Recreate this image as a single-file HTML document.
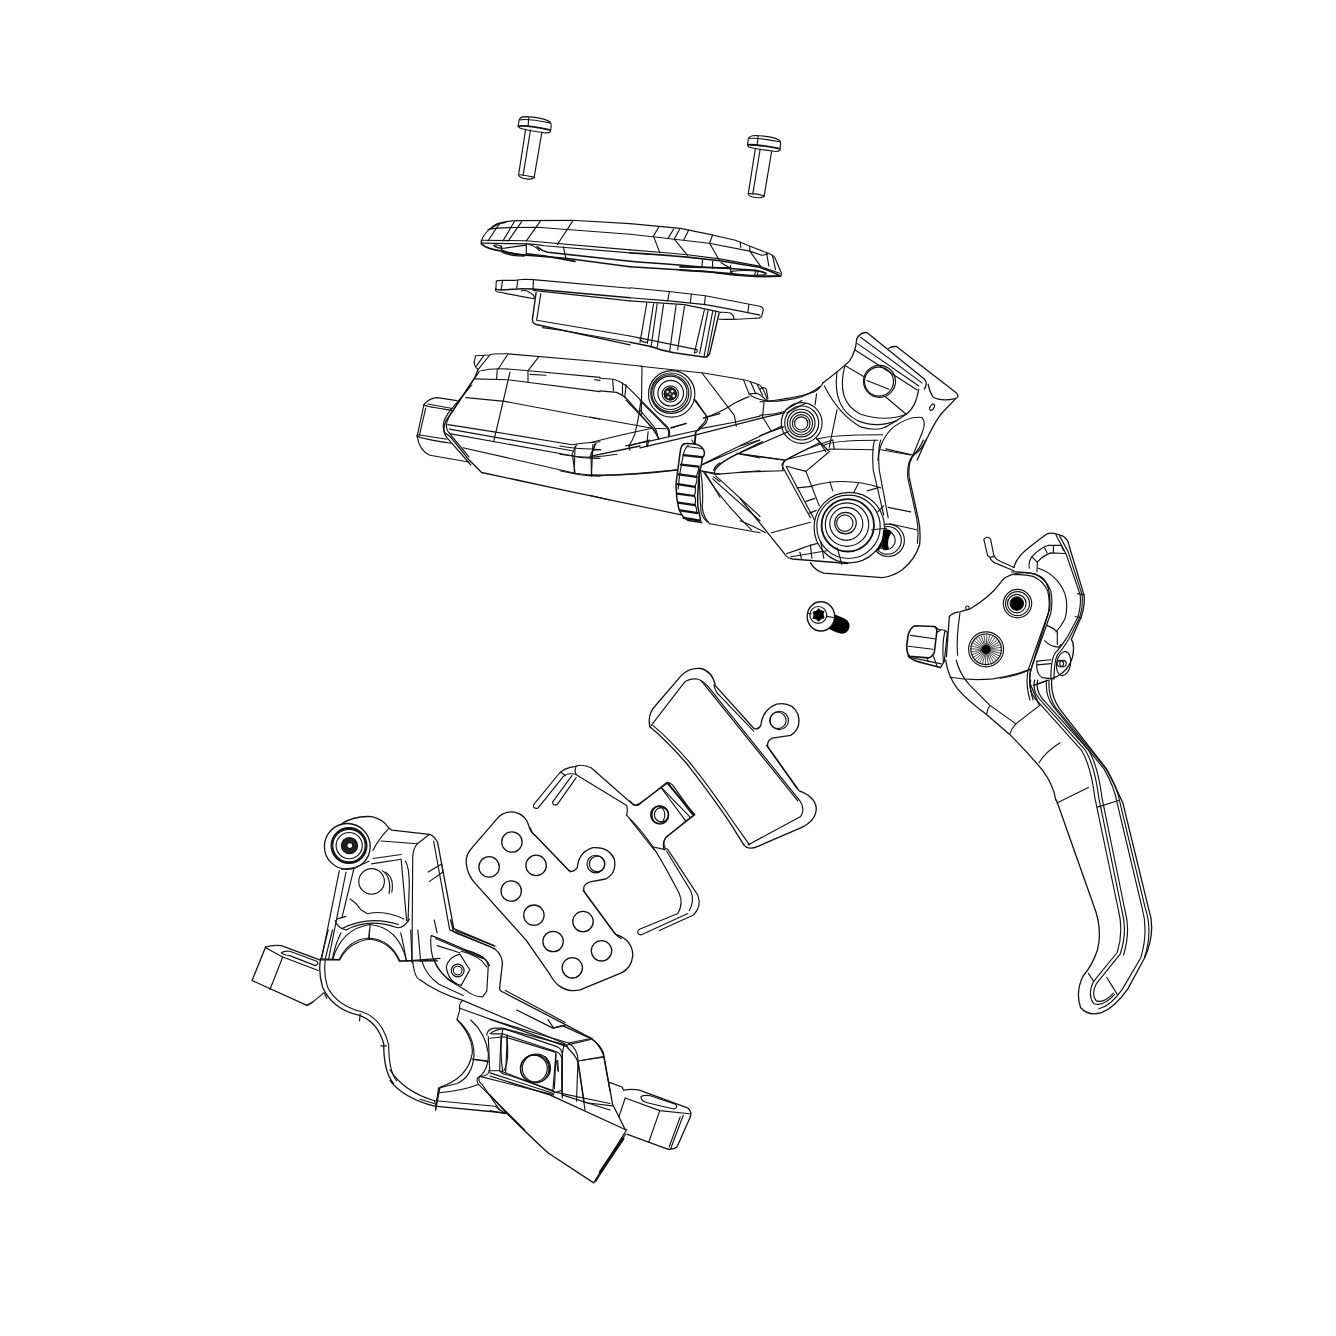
<!DOCTYPE html>
<html><head><meta charset="utf-8"><style>
html,body{margin:0;padding:0;background:#fff;width:1336px;height:1336px;overflow:hidden}
svg{display:block}
</style></head><body>
<svg width="1336" height="1336" viewBox="0 0 1336 1336">
<g fill="none" stroke="#111" stroke-width="1.15" stroke-linejoin="round" stroke-linecap="round">
<path d="M 519.2 119.6 Q 520.4 116.6 525.1 116.6 Q 541.9 117.2 549.7 121.4 Q 551.5 123.2 551.2 125.6 L 550.6 131.3 Q 549.1 133.4 544.3 132.8 Q 529.9 131.0 519.8 128.0 Q 518.0 126.8 518.3 125.0 Z"/>
<path d="M 519.8 119.9 Q 526.9 118.4 550.3 122.9"/>
<path d="M 528.7 117.8 L 528.1 126.2"/>
<path d="M 518.3 126.2 Q 526.9 125.0 549.7 129.8" stroke-width="1.8"/>
<path d="M 525.7 129.2 L 518.6 174.7" stroke-width="1.15"/>
<path d="M 530.5 129.8 L 523.1 175.3" stroke-width="1.15"/>
<path d="M 541.9 132.2 L 534.1 177.7" stroke-width="1.15"/>
<path d="M 518.3 174.7 Q 519.8 178.3 526.9 178.9 Q 532.3 179.8 534.4 177.1" stroke-width="1.15"/>
<path d="M 519.8 174.7 Q 526.9 175.3 533.5 177.1" stroke-width="1.15"/>
<path d="M 748.3 138.8 Q 749.8 135.5 755.1 135.5 Q 771.9 136.1 779.1 140.0 Q 780.9 141.8 780.6 144.2 L 780.0 150.1 Q 778.5 151.9 773.7 151.3 Q 759.9 149.6 749.2 147.2 Q 747.4 146.0 747.7 143.6 Z" stroke-width="1.15"/>
<path d="M 748.6 138.5 Q 756.9 137.3 779.7 141.8" stroke-width="1.15"/>
<path d="M 758.1 136.4 L 757.2 144.8" stroke-width="1.15"/>
<path d="M 747.7 144.8 Q 756.9 144.2 779.7 148.7" stroke-width="1.8"/>
<path d="M 755.4 148.4 L 748.3 193.6" stroke-width="1.15"/>
<path d="M 760.2 149.0 L 752.8 193.9" stroke-width="1.15"/>
<path d="M 771.6 151.6 L 764.1 196.3" stroke-width="1.15"/>
<path d="M 748.0 193.9 Q 749.2 196.9 755.7 197.5 Q 762.3 198.4 764.4 196.0" stroke-width="1.15"/>
<path d="M 748.6 193.6 Q 756.9 193.3 763.8 195.7" stroke-width="1.15"/>
<path d="M 481.4 240.9 Q 483.2 233.7 494.0 225.4 Q 501.1 221.2 517.9 220.6 L 571.8 220.3 L 630.0 223.6"/>
<path d="M 488.0 229.6 Q 496.3 227.2 537.1 227.2 L 630.0 234.3"/>
<path d="M 491.0 229.0 Q 495.1 224.2 505.9 222.4"/>
<path d="M 482.0 240.3 L 526.3 240.7 L 630.0 249.9"/>
<path d="M 482.0 243.1 L 526.3 243.9 Q 537.1 244.5 544.3 245.7 L 630.0 252.9"/>
<path d="M 537.1 246.9 Q 541.9 251.1 547.8 252.3 L 630.0 261.3" stroke-width="1.6"/>
<path d="M 481.4 240.9 L 481.4 243.9 Q 486.8 249.3 502.3 251.1 Q 511.9 254.1 526.3 255.3 L 565.8 258.3 L 630.0 266.7" stroke-width="1.6"/>
<path d="M 494.0 245.7 Q 497.5 248.7 504.7 248.1 L 526.3 245.1" stroke-width="1.15"/>
<path d="M 502.3 251.1 Q 509.5 254.7 526.3 255.3" stroke-width="1.15"/>
<path d="M 499.9 223.0 L 488.0 240.9" stroke-width="1.15"/>
<path d="M 514.3 221.8 L 502.9 240.9" stroke-width="1.15"/>
<path d="M 521.5 221.8 L 508.3 240.9" stroke-width="1.15"/>
<path d="M 540.7 220.6 L 526.3 240.9" stroke-width="1.15"/>
<path d="M 573.0 220.6 L 557.4 244.5" stroke-width="1.15"/>
<path d="M 526.3 243.3 L 526.3 255.3" stroke-width="1.15"/>
<path d="M 563.4 246.9 L 565.8 258.3" stroke-width="1.15"/>
<path d="M 501.1 245.7 L 501.7 251.1" stroke-width="1.15"/>
<path d="M 528.7 244.5 Q 534.7 245.7 539.5 250.5" stroke-width="1.15"/>
<path d="M 630.0 223.6 L 680.3 228.4 Q 707.8 233.7 735.4 240.3 Q 749.8 246.3 764.1 251.7 Q 772.5 254.1 774.9 257.7 L 781.5 273.3 Q 781.5 276.3 778.5 276.3" stroke-width="1.15"/>
<path d="M 630.0 234.3 L 652.8 236.7 L 709.0 243.3 L 749.8 251.1 L 761.7 255.3 L 767.7 254.1" stroke-width="1.15"/>
<path d="M 630.0 249.9 L 659.9 252.3 L 687.5 254.7 L 719.8 258.9 L 759.3 266.1 L 779.7 273.3" stroke-width="1.15"/>
<path d="M 630.0 252.9 Q 665.9 255.3 687.5 257.1 L 719.8 260.7 L 759.3 267.3 Q 773.7 272.1 780.3 276.3" stroke-width="1.6"/>
<path d="M 630.0 261.3 Q 677.9 264.9 705.4 267.3 L 729.4 268.5 L 755.7 270.3 Q 762.9 272.1 765.9 273.3" stroke-width="1.6"/>
<path d="M 630.0 266.7 L 706.6 271.5 L 729.4 274.5 Q 749.8 276.9 778.5 276.3" stroke-width="1.6"/>
<path d="M 658.7 227.2 L 653.4 236.1 L 659.9 252.9" stroke-width="1.15"/>
<path d="M 673.7 229.0 L 668.3 237.9" stroke-width="1.15"/>
<path d="M 679.7 229.0 L 674.3 239.1 L 687.5 255.3" stroke-width="1.15"/>
<path d="M 688.7 230.1 L 683.9 239.7" stroke-width="1.15"/>
<path d="M 712.6 234.9 L 709.6 243.3 L 719.2 260.1" stroke-width="1.15"/>
<path d="M 740.2 242.1 L 740.8 247.5" stroke-width="1.15"/>
<path d="M 749.8 246.3 L 749.8 251.1 L 760.5 266.1" stroke-width="1.15"/>
<path d="M 766.5 252.9 L 768.9 266.1" stroke-width="1.15"/>
<path d="M 772.5 255.3 L 775.5 269.7" stroke-width="1.15"/>
<path d="M 702.5 260.1 L 701.9 267.3" stroke-width="1.15"/>
<path d="M 712.6 261.3 L 712.6 268.5" stroke-width="1.15"/>
<path d="M 730.6 265.5 L 730.6 274.5" stroke-width="1.15"/>
<path d="M 755.7 270.3 L 754.6 276.3" stroke-width="1.15"/>
<path d="M 721.0 262.5 Q 725.8 266.1 729.4 267.3" stroke-width="1.15"/>
<path d="M 731.2 271.4 Q 742.9 269.6 760.8 271.4 Q 768.0 273.2 765.3 274.6 Q 751.9 275.9 733.0 274.6 Z" stroke-width="1.15"/>
<path d="M 680.0 270.1 Q 706.9 271.4 730.3 273.7 L 754.6 276.4 L 780.6 276.1" stroke-width="1.7"/>
<path d="M 680.0 266.9 L 729.4 268.0" stroke-width="1.7"/>
<path d="M 758.1 271.0 L 757.2 276.8" stroke-width="1.15"/>
<path d="M 501.6 246.4 L 501.9 251.7 Q 506.4 255.4 523.7 256.2 L 526.6 255.0" stroke-width="1.15"/>
<path d="M 503.4 250.9 Q 512.4 254.3 523.7 254.7" stroke-width="1.15"/>
<path d="M 493.7 245.3 Q 497.5 244.2 501.2 246.4" stroke-width="1.15"/>
<path d="M 526.6 253.9 L 543.9 255.8 L 575.0 261.4" stroke-width="1.6"/>
<path d="M 495.8 289.9 L 496.3 281.0 Q 497.3 280.3 502.6 280.3 L 516.2 280.3 Q 518.3 279.4 524.6 279.2 L 533.0 279.6 L 630.0 288.3"/>
<path d="M 495.8 288.9 Q 496.3 289.9 501.5 289.9 L 518.3 288.9 Q 521.4 288.3 533.0 289.1 L 630.0 297.8" stroke-width="1.5"/>
<path d="M 495.2 289.9 Q 496.3 292.5 501.5 292.5 Q 513.1 295.1 534.0 298.8" stroke-width="1.15"/>
<path d="M 533.0 290.4 L 630.0 300.9" stroke-width="1.15"/>
<path d="M 502.6 280.5 L 501.0 290.4" stroke-width="1.15"/>
<path d="M 517.8 280.0 L 516.7 288.9" stroke-width="1.15"/>
<path d="M 533.5 279.6 L 533.0 289.1" stroke-width="1.15"/>
<path d="M 521.4 291.0 Q 523.5 288.9 529.8 292.5 Q 535.1 295.1 534.0 298.3" stroke-width="1.15"/>
<path d="M 536.1 292.5 L 532.4 319.3 Q 532.4 323.4 536.1 324.5 L 630.0 344.9" stroke-width="1.4"/>
<path d="M 540.8 293.6 L 536.6 320.3 L 630.0 336.0" stroke-width="1.15"/>
<path d="M 542.4 327.6 L 561.3 330.3 L 630.0 342.3" stroke-width="1.15"/>
<path d="M 630.0 287.8 L 668.8 291.5 L 705.4 295.7 Q 734.8 301.4 759.9 306.2 Q 764.1 307.7 763.1 310.9 L 761.5 316.6 Q 759.9 318.7 755.7 318.2" stroke-width="1.15"/>
<path d="M 630.0 297.8 L 668.8 300.9 L 705.4 304.6 Q 729.6 308.8 759.9 315.1" stroke-width="1.15"/>
<path d="M 719.1 319.3 Q 729.6 319.8 755.7 318.2" stroke-width="1.15"/>
<path d="M 630.0 300.9 L 684.5 304.6 L 719.1 311.9" stroke-width="1.15"/>
<path d="M 669.3 292.0 L 667.7 300.9" stroke-width="1.15"/>
<path d="M 691.3 294.1 L 690.3 302.5" stroke-width="1.15"/>
<path d="M 705.4 296.2 L 704.4 304.6" stroke-width="1.15"/>
<path d="M 748.9 304.6 L 747.9 311.9" stroke-width="1.15"/>
<path d="M 720.1 312.4 Q 724.3 311.9 730.6 313.0 Q 734.8 316.1 733.7 319.3" stroke-width="1.15"/>
<path d="M 719.1 313.0 L 709.6 353.8 Q 707.5 357.5 703.4 357.0 L 674.0 352.8 Q 661.4 350.7 651.0 346.5 L 630.0 342.3" stroke-width="1.4"/>
<path d="M 630.0 336.0 L 640.5 338.1 L 697.1 349.6 Q 698.1 352.8 694.4 352.8" stroke-width="1.15"/>
<path d="M 646.8 303.0 L 640.0 342.3" stroke-width="1.15"/>
<path d="M 653.6 303.5 L 647.3 343.4" stroke-width="1.15"/>
<path d="M 657.2 303.5 L 651.0 347.5" stroke-width="1.15"/>
<path d="M 663.5 304.6 L 657.2 347.5" stroke-width="1.15"/>
<path d="M 676.1 305.1 L 669.8 350.7" stroke-width="1.15"/>
<path d="M 684.5 306.2 L 677.7 349.6" stroke-width="1.15"/>
<path d="M 704.4 309.8 L 694.4 352.8" stroke-width="1.15"/>
<path d="M 708.1 310.3 L 699.7 353.3" stroke-width="1.15"/>
<path d="M 712.8 310.9 L 703.9 357.0" stroke-width="1.15"/>
<path d="M 715.9 311.4 L 707.0 357.0" stroke-width="1.15"/>
<path d="M 640.0 338.1 Q 640.5 342.3 646.8 342.3" stroke-width="1.15"/>
<path d="M 474.1 362.5 L 475.6 355.7 L 489.8 355.0 Q 491.3 353.5 507.8 353.8 L 600.0 361.7"/>
<path d="M 474.1 362.5 Q 474.9 367.7 477.8 369.2"/>
<path d="M 489.8 355.0 L 477.8 369.9"/>
<path d="M 483.8 355.7 L 476.3 366.2"/>
<path d="M 480.8 370.7 Q 492.8 367.7 510.8 369.2 L 528.7 370.7 L 600.0 377.4"/>
<path d="M 530.2 374.4 L 546.0 375.2"/>
<path d="M 594.6 379.7 L 600.0 380.4"/>
<path d="M 474.9 378.9 L 507.8 379.7 L 600.0 391.6"/>
<path d="M 477.8 369.9 L 474.9 377.4 L 447.9 417.8 Q 441.9 426.8 444.9 432.8 L 450.9 437.3 L 468.9 459.8 L 481.6 472.5 L 516.8 480.0" stroke-width="1.3"/>
<path d="M 479.3 371.4 L 449.4 416.3 Q 444.2 425.3 447.9 431.3 L 468.9 456.8" stroke-width="1.15"/>
<path d="M 424.0 404.4 L 417.2 435.8" stroke-width="1.15"/>
<path d="M 424.0 404.4 Q 429.9 397.6 437.4 397.6 L 456.9 400.6" stroke-width="1.15"/>
<path d="M 424.0 405.1 Q 426.2 406.6 451.6 410.4" stroke-width="1.15"/>
<path d="M 416.5 435.8 Q 421.0 438.8 450.9 443.3" stroke-width="1.15"/>
<path d="M 417.2 436.6 Q 419.5 450.8 429.9 455.3 L 468.9 462.0" stroke-width="1.15"/>
<path d="M 465.9 397.6 L 504.8 401.4 L 600.0 419.3" stroke-width="1.15"/>
<path d="M 447.9 424.6 L 495.8 432.1 L 572.2 444.8 Q 579.6 443.3 600.0 441.8" stroke-width="1.15"/>
<path d="M 449.4 429.1 L 572.2 450.8" stroke-width="1.15"/>
<path d="M 449.4 433.6 L 573.7 456.0 Q 579.6 458.3 600.0 458.3" stroke-width="1.15"/>
<path d="M 462.9 447.8 L 575.1 473.2 L 600.0 476.2" stroke-width="1.15"/>
<path d="M 510.0 372.2 L 493.6 441.8" stroke-width="1.15"/>
<path d="M 497.3 369.2 L 496.6 378.9" stroke-width="1.15"/>
<path d="M 528.0 370.7 L 528.0 381.9" stroke-width="1.15"/>
<path d="M 507.8 354.2 L 498.1 369.2" stroke-width="1.15"/>
<path d="M 538.5 357.2 L 528.7 369.9" stroke-width="1.15"/>
<path d="M 576.6 444.8 L 572.2 453.8 L 575.1 473.2" stroke-width="1.15"/>
<path d="M 596.1 443.3 L 590.9 453.8 L 591.6 476.2" stroke-width="1.15"/>
<path d="M 590.0 417.0 L 652.3 428.2 L 665.9 428.7" stroke-width="1.15"/>
<path d="M 590.0 442.8 Q 619.2 435.0 652.3 428.2" stroke-width="1.15"/>
<path d="M 626.0 400.0 L 652.3 427.7 L 659.1 438.9" stroke-width="1.15"/>
<path d="M 640.6 402.9 Q 638.7 419.5 634.8 434.1 Q 631.8 441.8 628.9 445.7 L 629.9 450.1" stroke-width="1.15"/>
<path d="M 626.0 445.7 L 630.9 445.2" stroke-width="1.15"/>
<path d="M 670.8 428.2 L 686.3 423.4" stroke-width="1.15"/>
<path d="M 590.0 456.4 L 640.0 446.0" stroke-width="1.3"/>
<path d="M 626.0 445.7 L 648.4 441.4 L 699.0 430.0" stroke-width="1.15"/>
<path d="M 695.6 400.0 L 706.8 416.5 Q 708.7 420.4 704.8 424.3 L 698.0 430.2" stroke-width="1.15"/>
<path d="M 703.8 418.0 L 720.0 413.6" stroke-width="1.15"/>
<path d="M 696.1 431.1 L 695.1 443.8" stroke-width="1.15"/>
<path d="M 590.0 474.9 Q 628.9 475.9 676.6 470.1" stroke-width="1.15"/>
<path d="M 590.0 495.4 L 609.5 500.0" stroke-width="1.15"/>
<path d="M 701.9 464.7 L 720.0 456.4" stroke-width="1.15"/>
<path d="M 701.9 471.0 L 720.0 474.0" stroke-width="1.15"/>
<path d="M 704.8 472.0 L 720.0 497.3" stroke-width="1.15"/>
<path d="M 713.6 476.9 L 720.0 481.7" stroke-width="1.15"/>
<path d="M 713.6 470.1 Q 715.5 465.2 720.0 462.8" stroke-width="1.15"/>
<path d="M 594.9 443.8 L 591.9 454.5" stroke-width="1.15"/>
<path d="M 592.9 450.1 L 600.7 449.6" stroke-width="1.15"/>
<path d="M 648.4 441.8 L 647.4 446.7" stroke-width="1.15"/>
<path d="M 560.0 489.4 L 681.3 514.9"/>
<path d="M 709.7 523.8 L 760.0 532.8"/>
<path d="M 560.0 470.7 Q 582.5 475.9 595.9 475.9 Q 634.9 474.4 676.8 469.9"/>
<path d="M 560.0 454.2 Q 575.0 457.2 589.9 457.2 Q 604.9 456.2 616.9 454.2"/>
<path d="M 560.0 446.0 Q 575.0 449.0 592.9 449.0 L 600.4 449.7"/>
<path d="M 575.0 446.0 L 574.2 472.9"/>
<path d="M 592.9 444.5 L 591.4 475.9"/>
<path d="M 628.9 446.0 L 649.8 440.0"/>
<path d="M 691.7 440.0 L 694.7 444.5"/>
<path d="M 700.7 471.4 Q 703.7 489.4 702.2 507.4 Q 703.7 517.8 709.7 523.8"/>
<path d="M 702.2 464.7 Q 724.7 455.0 760.0 440.0"/>
<path d="M 714.2 472.9 Q 715.7 464.0 738.1 453.5 L 760.0 443.0"/>
<path d="M 738.1 453.5 L 760.0 458.0"/>
<path d="M 700.7 470.7 L 715.7 474.4 L 760.0 470.7"/>
<path d="M 703.7 472.2 Q 724.7 504.4 751.6 529.8"/>
<path d="M 712.7 478.9 L 760.0 520.8"/>
<path d="M 715.7 475.9 L 760.0 516.3"/>
<path d="M 822.9 382.9 Q 841.7 368.7 849.6 360.9 Q 855.9 351.4 856.7 338.9 Q 860.6 331.8 866.9 332.6 L 924.3 378.9 Q 928.2 383.7 924.3 389.2" stroke-width="1.3"/>
<path d="M 888.9 348.3 Q 892.0 345.9 896.8 346.7 L 956.5 393.1 Q 960.4 397.0 954.9 398.6 Q 940.8 401.7 932.9 397.0 Q 929.0 390.7 928.2 384.4" stroke-width="1.3"/>
<path d="M 955.7 398.6 L 940.8 414.3 Q 931.3 426.9 917.2 460.1" stroke-width="1.3"/>
<path d="M 860.6 337.3 L 921.9 382.9" stroke-width="1.15"/>
<path d="M 857.5 343.6 L 918.8 386.0" stroke-width="1.15"/>
<path d="M 855.1 349.9 L 917.2 389.9" stroke-width="1.15"/>
<path d="M 918.8 389.2 Q 915.6 408.0 906.2 414.3 L 896.8 420.6 L 885.7 426.9" stroke-width="1.15"/>
<ellipse cx="932.1" cy="407.2" rx="1.9" ry="3.5" transform="rotate(30.0 932.1 407.2)" stroke-width="1.15"/>
<circle cx="879.5" cy="381.3" r="16.0" stroke-width="1.15"/>
<circle cx="879.0" cy="381.6" r="14.5" stroke-width="1.15"/>
<path d="M 866.9 380.5 L 888.9 389.2" stroke-width="1.15"/>
<path d="M 844.9 365.6 L 863.7 376.6" stroke-width="1.15"/>
<path d="M 885.7 397.0 L 906.2 414.3" stroke-width="1.15"/>
<path d="M 844.9 365.6 Q 835.4 401.7 860.6 414.3 Q 885.7 422.2 906.2 414.3" stroke-width="1.15"/>
<path d="M 837.0 371.9 Q 832.3 408.0 857.5 420.6 Q 876.3 428.5 896.8 420.6" stroke-width="1.15"/>
<path d="M 824.4 386.0 Q 838.6 414.3 860.6 426.9 Q 876.3 431.6 885.7 426.9" stroke-width="1.15"/>
<circle cx="801.7" cy="423.0" r="20.4" stroke-width="1.15"/>
<circle cx="801.7" cy="423.0" r="17.0" stroke-width="1.15"/>
<circle cx="801.2" cy="423.0" r="13.8" stroke-width="1.15"/>
<circle cx="801.2" cy="423.4" r="11.3" stroke-width="1.15"/>
<circle cx="801.2" cy="423.4" r="8.8" stroke-width="1.15"/>
<circle cx="801.2" cy="423.4" r="6.6" stroke-width="1.15"/>
<path d="M 760.0 401.7 Q 791.4 399.4 813.4 392.3 Q 819.7 389.2 822.9 382.9" stroke-width="1.15"/>
<path d="M 760.0 415.1 Q 775.7 414.3 785.1 411.2" stroke-width="1.15"/>
<path d="M 760.0 435.5 L 783.6 426.9" stroke-width="1.15"/>
<path d="M 815.0 404.9 L 816.6 393.9" stroke-width="1.15"/>
<path d="M 837.0 409.6 L 829.2 447.3" stroke-width="1.15"/>
<path d="M 816.6 437.9 L 826.0 452.0" stroke-width="1.15"/>
<path d="M 816.6 439.5 Q 826.0 434.7 882.6 434.7" stroke-width="1.15"/>
<path d="M 822.9 445.7 Q 830.7 440.2 877.9 440.2" stroke-width="1.15"/>
<path d="M 877.9 460.1 Q 879.5 439.5 893.6 426.9 Q 909.3 415.9 921.9 417.5 Q 926.6 422.2 921.9 433.2 L 910.9 460.1" stroke-width="1.15"/>
<path d="M 885.7 448.9 L 914.0 455.2" stroke-width="1.15"/>
<path d="M 760.0 389.2 Q 763.1 386.0 766.3 389.2 L 767.9 398.6" stroke-width="1.15"/>
<path d="M 925.6 440.0 Q 922.6 449.0 913.7 455.0 Q 907.7 461.0 909.2 477.4 L 918.1 517.8 Q 921.1 529.8 919.6 544.8 Q 915.1 559.8 901.7 570.2 Q 892.7 576.2 882.2 577.7 L 823.8 573.2 Q 814.9 570.2 810.4 562.8" stroke-width="1.3"/>
<path d="M 923.4 440.0 Q 919.6 449.0 912.2 456.5 Q 906.9 462.5 907.7 477.4 L 916.6 517.8 Q 918.9 529.8 917.4 543.3" stroke-width="1.15"/>
<path d="M 740.0 498.4 L 783.4 552.3 Q 786.4 558.3 792.4 559.0 L 847.8 563.5" stroke-width="1.3"/>
<path d="M 740.0 520.8 Q 755.0 526.8 765.4 532.8" stroke-width="1.15"/>
<path d="M 781.9 465.4 Q 783.4 459.5 789.4 458.7 L 829.8 449.0 L 873.2 449.7" stroke-width="1.15"/>
<path d="M 880.7 449.7 L 910.7 455.0" stroke-width="1.15"/>
<path d="M 782.7 466.9 L 810.4 517.8" stroke-width="1.15"/>
<path d="M 786.4 466.9 L 814.9 520.8" stroke-width="1.15"/>
<path d="M 786.4 466.2 L 805.9 471.4 L 829.8 451.2" stroke-width="1.15"/>
<path d="M 805.9 471.4 L 819.3 505.9" stroke-width="1.15"/>
<path d="M 740.0 454.2 L 784.9 460.2" stroke-width="1.15"/>
<path d="M 740.0 472.2 L 783.4 470.7" stroke-width="1.15"/>
<path d="M 740.0 446.0 L 759.5 440.0" stroke-width="1.15"/>
<path d="M 743.0 451.2 L 762.5 441.5" stroke-width="1.15"/>
<path d="M 789.4 458.0 Q 807.4 447.5 832.8 440.0" stroke-width="1.15"/>
<path d="M 817.8 440.0 L 828.3 450.5" stroke-width="1.15"/>
<path d="M 832.8 440.0 L 834.3 449.0" stroke-width="1.15"/>
<path d="M 874.7 440.0 Q 871.7 449.0 873.2 469.9 L 883.7 514.9" stroke-width="1.15"/>
<path d="M 880.7 440.0 Q 877.7 449.0 879.2 469.9 L 888.2 517.8" stroke-width="1.15"/>
<circle cx="888.2" cy="540.3" r="16.2" stroke-width="1.15"/>
<circle cx="887.5" cy="540.3" r="13.8" stroke-width="1.15"/>
<circle cx="886.0" cy="540.3" r="9.3" stroke-width="1.15"/>
<path fill="#000" stroke="none" d="M 877.7 529.8 Q 883.7 528.3 888.2 531.3 Q 883.0 537.3 882.2 544.8 Q 881.5 550.8 874.7 550.8 Z"/>
<circle cx="849.3" cy="527.6" r="35.2" stroke-width="1.15" fill="#fff"/>
<circle cx="848.5" cy="526.8" r="31.7" stroke-width="1.15"/>
<circle cx="847.8" cy="525.3" r="26.2" stroke-width="1.8"/>
<circle cx="847.0" cy="524.6" r="21.7" stroke-width="1.15"/>
<circle cx="846.3" cy="523.8" r="16.5" stroke-width="1.15"/>
<circle cx="845.5" cy="523.1" r="10.8" stroke-width="1.15"/>
<circle cx="844.8" cy="523.1" r="8.2" stroke-width="1.15"/>
<path d="M 810.4 486.4 Q 844.8 475.9 880.7 487.9" stroke-width="1.15"/>
<path d="M 829.8 481.9 L 832.8 490.9" stroke-width="1.15"/>
<path d="M 858.3 483.4 L 853.8 492.4" stroke-width="1.15"/>
<path d="M 867.2 490.9 L 877.7 487.9" stroke-width="1.15"/>
<path d="M 796.9 487.9 L 811.9 486.4" stroke-width="1.15"/>
<path d="M 805.9 501.4 L 814.9 498.4" stroke-width="1.15"/>
<path d="M 808.9 513.4 L 816.3 510.4" stroke-width="1.15"/>
<path d="M 771.4 532.8 L 810.4 522.3" stroke-width="1.15"/>
<path d="M 786.4 553.8 Q 814.9 543.3 817.8 543.3" stroke-width="1.15"/>
<path d="M 790.9 556.8 L 826.8 550.8" stroke-width="1.15"/>
<path d="M 888.2 507.4 L 910.7 511.9" stroke-width="1.15"/>
<path d="M 889.7 523.8 L 916.6 529.8" stroke-width="1.15"/>
<path d="M 799.9 552.3 L 801.4 558.3" stroke-width="1.15"/>
<path d="M 810.4 544.8 L 811.9 558.3" stroke-width="1.15"/>
<path d="M 820.8 541.8 L 823.8 558.3" stroke-width="1.15"/>
<path d="M 837.3 547.8 L 841.8 564.3" stroke-width="1.15"/>
<path d="M 877.7 511.9 L 883.7 505.9" stroke-width="1.15"/>
<path d="M 871.7 529.8 L 886.7 528.3" stroke-width="1.15"/>
<path d="M 640.0 366.3 L 703.3 373.0 L 743.7 379.7 Q 747.8 380.4 750.5 381.8 L 758.6 384.5 Q 762.6 385.8 766.6 397.9 L 767.3 401.3 Q 788.2 401.3 801.7 396.6 Q 812.5 392.5 820.0 386.5"/>
<path d="M 743.7 380.4 L 749.1 393.9 Q 754.5 399.3 766.6 400.6"/>
<path d="M 750.5 381.8 L 755.9 393.9"/>
<path d="M 757.2 384.5 L 762.6 395.2"/>
<path d="M 749.1 393.9 L 757.2 393.2 Q 761.3 395.2 765.3 399.3"/>
<circle cx="671.7" cy="393.9" r="23.2"/>
<circle cx="671.0" cy="393.2" r="20.2"/>
<circle cx="670.3" cy="393.2" r="18.5"/>
<circle cx="670.3" cy="392.8" r="16.7"/>
<circle cx="670.7" cy="393.2" r="12.8"/>
<circle cx="670.3" cy="393.9" r="8.1"/>
<circle cx="670.3" cy="393.9" r="6.1"/>
<circle cx="670.3" cy="393.9" r="6.1" fill="#222"/>
<circle cx="667.6" cy="391.9" r="1.1" stroke-width="0" fill="#fff"/>
<circle cx="672.3" cy="391.2" r="1.2" stroke-width="0" fill="#fff"/>
<circle cx="673.7" cy="395.9" r="1.3" stroke-width="0" fill="#fff"/>
<circle cx="668.3" cy="397.3" r="1.1" stroke-width="0" fill="#fff"/>
<circle cx="670.3" cy="393.9" r="0.8" stroke-width="0" fill="#fff"/>
<path d="M 702.0 373.0 L 734.3 415.4 L 736.3 426.2" stroke-width="1.15"/>
<path d="M 693.9 399.3 L 706.0 415.4 Q 707.4 420.8 700.6 426.2 L 695.2 433.0 L 694.6 442.4" stroke-width="1.15"/>
<path d="M 703.3 418.1 Q 720.8 412.8 734.3 403.3 Q 745.1 397.9 749.1 396.6" stroke-width="1.15"/>
<path d="M 764.0 402.0 L 762.6 416.8 L 770.7 430.3" stroke-width="1.15"/>
<path d="M 640.0 447.8 L 697.9 434.3 L 761.3 418.1 L 784.2 412.8" stroke-width="1.3"/>
<path d="M 699.3 428.9 L 734.3 422.2 L 759.9 416.1" stroke-width="1.15"/>
<path d="M 640.0 400.6 L 666.9 427.6 Q 669.6 431.6 668.3 435.7" stroke-width="1.15"/>
<path d="M 640.0 410.1 L 653.5 426.2 Q 657.5 431.6 657.5 437.0" stroke-width="1.15"/>
<path d="M 685.8 423.5 L 671.0 427.6" stroke-width="1.15"/>
<path d="M 642.0 366.3 L 641.3 415.4" stroke-width="1.15"/>
<path d="M 648.1 431.6 L 646.7 446.4" stroke-width="1.15"/>
<path d="M 703.3 464.0 Q 734.3 447.8 781.5 426.2" stroke-width="1.15"/>
<path d="M 714.1 470.0 Q 720.8 461.3 742.4 451.8 L 788.2 431.6" stroke-width="1.15"/>
<path d="M 737.0 453.2 L 784.2 459.9" stroke-width="1.15"/>
<path d="M 782.8 470.0 Q 781.5 461.3 788.2 458.6 L 820.0 442.4" stroke-width="1.15"/>
<path d="M 785.5 410.1 L 801.7 400.6" stroke-width="1.15"/>
<path d="M 786.9 412.8 L 805.7 403.3" stroke-width="1.15"/>
<path d="M 600.0 361.7 L 641.9 366.2"/>
<path d="M 600.0 378.2 L 613.5 379.2 Q 621.0 381.2 626.2 385.7 L 667.4 426.8 Q 671.1 431.3 668.9 436.6"/>
<path d="M 600.0 390.9 L 616.5 392.4 Q 624.0 395.4 629.2 401.4 L 652.4 428.3 Q 656.9 432.8 658.4 438.8"/>
<path d="M 612.7 379.7 L 613.5 390.9"/>
<path d="M 622.5 382.7 L 622.5 395.4"/>
<path d="M 626.2 384.9 L 624.7 397.6"/>
<path d="M 516.8 480.0 L 560.0 489.4" stroke-width="1.3"/>
<path fill="#000" stroke="none" d="M 883.0 530.0 Q 889.0 528.0 892.0 532.0 Q 886.0 540.0 889.0 549.0 Q 884.0 552.0 882.0 548.0 Z"/>
<path d="M 427.8 404.0 L 452.3 408.5" stroke-width="1.15"/>
<path d="M 425.7 408.1 L 419.4 435.3" stroke-width="1.15"/>
<path d="M 418.2 434.7 L 446.9 439.2" stroke-width="1.15"/>
<path d="M 471.8 385.0 L 450.5 410.1 Q 443.9 418.5 443.3 424.5 Q 442.7 431.7 446.9 437.7 L 470.9 465.0" stroke-width="1.15"/>
<path d="M 684.3 443.8 Q 680.9 445.1 680.2 451.8 L 676.2 482.2 Q 675.5 495.6 678.9 509.1 Q 682.2 517.9 688.3 520.6 L 701.8 522.6" stroke-width="1.5"/>
<path d="M 684.3 443.8 Q 688.3 443.1 695.0 444.1 Q 703.1 445.8 704.5 452.5 Q 704.5 455.9 702.4 457.9" stroke-width="1.5"/>
<path d="M 702.4 457.9 L 701.1 466.0 L 699.1 474.1 L 697.7 495.6 L 697.7 505.7 L 700.4 519.2" stroke-width="1.5"/>
<path d="M 683.6 455.2 L 701.8 457.2" stroke-width="2.2"/>
<path d="M 680.9 464.6 L 698.7 466.7" stroke-width="2.2"/>
<path d="M 678.9 474.4 L 696.7 476.8" stroke-width="2.2"/>
<path d="M 677.6 484.2 L 695.0 486.9" stroke-width="2.2"/>
<path d="M 677.5 493.6 L 694.4 496.0" stroke-width="2.2"/>
<path d="M 678.2 502.7 L 695.0 505.1" stroke-width="2.2"/>
<path d="M 680.2 510.4 L 697.7 513.1" stroke-width="2.2"/>
<path d="M 683.6 517.9 L 700.4 520.6" stroke-width="2.2"/>
<path d="M 688.3 445.1 Q 684.3 448.5 682.9 456.6 L 679.5 475.4 L 678.2 488.9" stroke-width="1.15"/>
<path d="M 686.9 446.5 L 701.8 448.5" stroke-width="1.15"/>
<path d="M 698.4 466.7 Q 699.1 470.0 696.7 475.4" stroke-width="1.15"/>
<path d="M 696.7 476.8 Q 697.7 480.8 695.0 486.2" stroke-width="1.15"/>
<path d="M 695.0 486.9 Q 696.4 490.9 694.4 495.3" stroke-width="1.15"/>
<path d="M 694.4 496.0 Q 696.4 499.7 695.0 504.4" stroke-width="1.15"/>
<path d="M 695.0 505.1 Q 697.4 509.1 696.4 512.5" stroke-width="1.15"/>
<path d="M 699.1 468.7 Q 699.7 495.6 701.1 512.5 Q 703.8 519.9 708.5 522.6" stroke-width="1.15"/>
<path fill="#000" stroke="none" d="M 834.5 614.3 L 844.5 618.5 Q 850.3 621.7 849.5 626.9 Q 848.2 633.2 841.9 633.7 Q 837.2 633.2 828.8 629.0 Z"/>
<ellipse cx="820.9" cy="616.4" rx="13.7" ry="14.6" transform="rotate(0.0 820.9 616.4)" stroke-width="1.4" fill="#fff"/>
<circle cx="818.3" cy="614.9" r="8.4" stroke-width="1.15"/>
<path fill="#000" stroke="none" d="M 818.6 608.1 L 820.4 610.1 L 824.6 611.2 L 823.5 614.3 L 824.6 618.0 L 820.9 619.6 L 818.6 621.7 L 816.2 619.6 L 812.5 618.5 L 813.6 614.9 L 812.5 611.7 L 816.2 610.7 Z"/>
<path d="M 826.7 616.4 L 833.5 617.5" stroke-width="1.15"/>
<path d="M 807.8 613.3 L 811.0 613.6" stroke-width="1.15"/>
<path d="M 983.8 539.2 L 987.6 555.7 Q 989.8 558.2 994.0 556.4 L 990.6 539.2 Q 988.3 535.2 983.8 539.2 Z"/>
<path d="M 989.8 557.2 Q 991.3 561.7 997.3 563.9 L 1013.8 570.7"/>
<path d="M 994.0 555.7 Q 995.8 559.4 1000.3 561.2 L 1014.5 567.7"/>
<path d="M 949.4 616.3 Q 952.4 612.6 959.9 611.8 Q 964.4 610.3 970.4 608.8 Q 989.8 596.9 998.8 584.9 Q 1004.8 574.4 1019.8 572.9 Q 1034.7 571.4 1043.7 578.9 Q 1051.2 587.9 1049.7 608.8 L 1031.7 667.2 Q 1028.7 674.7 1030.2 683.7 L 1039.2 704.9" stroke-width="1.3"/>
<path d="M 949.4 616.3 L 946.4 656.7" stroke-width="1.3"/>
<path d="M 959.9 613.3 Q 956.1 638.8 957.6 655.2" stroke-width="1.15"/>
<circle cx="967.4" cy="607.8" r="1.8" stroke-width="1.15"/>
<circle cx="1017.5" cy="603.6" r="14.2" stroke-width="1.15"/>
<circle cx="1017.5" cy="603.6" r="12.0" stroke-width="1.15"/>
<circle cx="1016.8" cy="603.6" r="9.3" stroke-width="1.15"/>
<circle cx="1016.8" cy="603.6" r="6.7" stroke-width="1.15" fill="#000"/>
<circle cx="986.1" cy="649.3" r="17.5" stroke-width="1.15"/>
<circle cx="986.1" cy="649.3" r="15.3" stroke-width="1.15"/>
<path d="M 1056.4 800.0 L 1093.6 905.3 Q 1102.8 928.9 1097.5 949.8 Q 1092.3 965.6 1083.1 976.0 Q 1075.3 991.8 1080.5 1007.5 Q 1088.4 1016.6 1101.5 1012.7 Q 1114.6 1007.5 1127.7 989.1 L 1144.7 957.7 Q 1156.5 931.5 1148.4 907.9 L 1122.9 803.1 Q 1114.6 784.8 1106.7 769.1 L 1059.6 708.8 Q 1050.4 695.7 1051.7 680.0" stroke-width="1.3"/>
<path d="M 1030.7 680.0 Q 1027.6 691.8 1038.6 702.3 L 1081.8 750.7 Q 1091.0 766.5 1094.9 797.9 L 1118.5 910.5 Q 1123.7 931.5 1117.2 952.5 L 1093.6 981.3 Q 1087.1 994.4 1093.6 1003.5 Q 1102.8 1007.5 1114.6 994.4" stroke-width="1.15"/>
<path d="M 1034.7 680.0 Q 1031.5 691.8 1042.5 702.3 L 1085.7 750.7 Q 1094.9 766.5 1098.8 797.9 L 1121.9 910.5 Q 1127.7 931.5 1120.3 953.8 L 1096.2 983.9 Q 1091.0 994.4 1096.2 1000.9 Q 1104.1 1003.5 1113.3 993.1" stroke-width="1.15"/>
<path d="M 1046.5 680.0 Q 1045.1 695.7 1053.0 706.2 L 1104.1 769.1 Q 1114.6 787.4 1117.2 803.1 L 1142.1 907.9 Q 1148.6 931.5 1140.8 957.7 L 1122.4 989.1 Q 1110.6 1006.2 1098.8 1008.8" stroke-width="1.15"/>
<path d="M 1056.9 803.1 L 1088.4 787.4" stroke-width="1.15"/>
<path d="M 1097.5 807.1 L 1118.5 800.5" stroke-width="1.15"/>
<path d="M 1088.4 973.4 L 1093.6 981.3" stroke-width="1.15"/>
<path d="M 1106.7 977.3 L 1117.2 994.4" stroke-width="1.15"/>
<path d="M 1037.8 680.0 Q 1034.7 691.8 1045.7 702.3 L 1088.9 750.7 Q 1098.1 766.5 1102.0 797.9 L 1125.0 910.5 Q 1130.8 931.5 1123.5 955.1" stroke-width="1.15"/>
<path d="M 1049.1 680.0 Q 1047.8 695.7 1055.6 707.5 L 1106.2 769.1 Q 1117.2 786.1 1120.1 803.1 L 1145.2 907.9 Q 1153.1 931.5 1144.4 957.7" stroke-width="1.15"/>
<path d="M 1014.0 566.9 Q 1016.5 558.0 1025.4 550.4 Q 1038.2 540.2 1047.1 533.8 Q 1050.9 532.5 1056.0 533.8 L 1063.6 536.4 Q 1068.7 540.2 1069.3 546.5 L 1084.0 594.9 Q 1085.3 603.8 1081.4 616.5 L 1071.3 639.4 Q 1075.1 644.5 1072.5 657.2 Q 1068.7 670.0 1057.3 676.3 L 1050.9 678.9" stroke-width="1.3"/>
<path d="M 1056.0 535.1 L 1066.2 554.2 L 1080.2 594.9 Q 1081.4 605.1 1077.6 617.8 L 1067.4 636.9 Q 1059.8 648.3 1056.0 652.2 Q 1050.9 657.2 1050.9 678.9" stroke-width="1.15"/>
<path d="M 1059.8 536.4 L 1068.1 551.6 L 1082.1 594.9 Q 1083.3 605.1 1079.5 617.8 L 1069.3 638.2 Q 1062.4 649.6 1058.5 653.4 Q 1054.1 658.5 1054.1 678.9" stroke-width="1.15"/>
<path d="M 1029.3 568.2 Q 1028.0 560.5 1033.1 555.4 Q 1040.7 547.8 1048.4 545.3 L 1061.1 545.3 L 1063.6 550.4" stroke-width="1.15"/>
<path d="M 1036.9 572.0 L 1037.5 561.8 Q 1043.3 555.4 1050.9 552.9 L 1064.9 553.5" stroke-width="1.15"/>
<path d="M 1044.5 547.8 L 1047.1 552.9" stroke-width="1.15"/>
<path d="M 1053.4 545.3 L 1053.4 552.3" stroke-width="1.15"/>
<path d="M 1031.8 556.7 L 1036.9 561.8" stroke-width="1.15"/>
<path d="M 1077.6 593.6 L 1084.0 594.9" stroke-width="1.15"/>
<path d="M 1075.1 616.5 L 1081.4 617.8" stroke-width="1.15"/>
<path d="M 1038.2 568.2 Q 1057.3 574.5 1064.9 593.6 Q 1068.7 606.3 1064.9 619.1 Q 1061.1 626.7 1056.0 631.8" stroke-width="1.15"/>
<path d="M 1011.5 572.0 Q 1022.9 571.4 1034.4 573.9 Q 1045.8 578.4 1050.9 591.1 Q 1052.8 601.3 1050.9 612.7 L 1031.2 668.7 Q 1027.4 681.4 1033.1 700.0" stroke-width="1.15"/>
<path d="M 1014.0 574.8 Q 1024.2 573.9 1033.1 576.4 Q 1043.3 580.9 1047.7 591.1 Q 1050.3 601.3 1048.4 612.7 L 1028.6 668.7 Q 1024.8 681.4 1029.9 700.0" stroke-width="1.15"/>
<path d="M 1047.1 625.4 Q 1053.4 628.0 1057.3 631.8 L 1057.3 644.5" stroke-width="1.15"/>
<path d="M 1044.5 640.7 Q 1050.9 647.1 1058.5 647.1 L 1061.1 644.5" stroke-width="1.15"/>
<path d="M 1036.9 661.1 L 1050.9 659.8" stroke-width="1.15"/>
<path d="M 1036.9 664.9 L 1050.9 663.6" stroke-width="1.15"/>
<path d="M 1036.9 661.1 Q 1035.6 673.8 1042.0 677.6 L 1053.4 678.9" stroke-width="1.15"/>
<ellipse cx="1063.6" cy="663.6" rx="7.0" ry="12.1" transform="rotate(10.0 1063.6 663.6)" stroke-width="1.15"/>
<circle cx="1063.0" cy="663.6" r="3.2" stroke-width="1.15"/>
<circle cx="1060.4" cy="663.6" r="3.2" stroke-width="1.15"/>
<path d="M 1033.1 685.2 L 1048.4 680.1" stroke-width="1.15"/>
<path d="M 1000.0 678.2 Q 1019.1 675.1 1029.3 670.0" stroke-width="1.15"/>
<path d="M 945.7 660.0 Q 947.8 675.7 957.2 688.3 Q 966.7 699.8 986.6 714.5 L 1009.6 734.4 Q 1029.6 754.3 1043.2 771.1 Q 1053.7 785.7 1055.7 800.0" stroke-width="1.3"/>
<path d="M 956.2 660.0 Q 959.3 673.6 969.8 685.1 Q 979.3 694.6 989.7 705.1 L 1015.9 723.9" stroke-width="1.15"/>
<path d="M 949.9 677.3 Q 971.9 681.0 992.9 678.9 Q 1013.8 675.7 1029.6 669.4" stroke-width="1.15"/>
<path d="M 986.6 714.5 Q 987.6 708.2 989.7 706.1" stroke-width="1.15"/>
<path d="M 1009.6 734.4 Q 1011.7 728.1 1015.9 723.9 L 1040.0 705.1" stroke-width="1.15"/>
<path d="M 1039.0 762.7 Q 1045.3 752.2 1060.0 742.8" stroke-width="1.15"/>
<path d="M 1034.8 685.1 L 1046.3 681.0" stroke-width="1.15"/>
<path d="M 990.6 649.8 L 1001.7 650.4" stroke-width="0.75"/>
<path d="M 990.5 650.7 L 1001.2 653.4" stroke-width="0.75"/>
<path d="M 990.2 651.5 L 1000.2 656.3" stroke-width="0.75"/>
<path d="M 989.7 652.3 L 998.6 658.9" stroke-width="0.75"/>
<path d="M 989.1 652.9 L 996.6 661.2" stroke-width="0.75"/>
<path d="M 988.4 653.5 L 994.1 663.0" stroke-width="0.75"/>
<path d="M 987.6 653.8 L 991.3 664.3" stroke-width="0.75"/>
<path d="M 986.8 654.0 L 988.4 665.0" stroke-width="0.75"/>
<path d="M 985.9 654.1 L 985.3 665.2" stroke-width="0.75"/>
<path d="M 985.0 654.0 L 982.3 664.7" stroke-width="0.75"/>
<path d="M 984.2 653.7 L 979.4 663.7" stroke-width="0.75"/>
<path d="M 983.4 653.2 L 976.8 662.1" stroke-width="0.75"/>
<path d="M 982.8 652.6 L 974.5 660.1" stroke-width="0.75"/>
<path d="M 982.2 651.9 L 972.7 657.6" stroke-width="0.75"/>
<path d="M 981.9 651.1 L 971.4 654.8" stroke-width="0.75"/>
<path d="M 981.6 650.3 L 970.7 651.9" stroke-width="0.75"/>
<path d="M 981.6 649.4 L 970.5 648.8" stroke-width="0.75"/>
<path d="M 981.7 648.5 L 971.0 645.8" stroke-width="0.75"/>
<path d="M 982.0 647.7 L 972.0 642.9" stroke-width="0.75"/>
<path d="M 982.5 646.9 L 973.6 640.3" stroke-width="0.75"/>
<path d="M 983.1 646.3 L 975.6 638.0" stroke-width="0.75"/>
<path d="M 983.8 645.7 L 978.1 636.2" stroke-width="0.75"/>
<path d="M 984.6 645.4 L 980.9 634.9" stroke-width="0.75"/>
<path d="M 985.4 645.1 L 983.8 634.2" stroke-width="0.75"/>
<path d="M 986.3 645.1 L 986.9 634.0" stroke-width="0.75"/>
<path d="M 987.2 645.2 L 989.9 634.5" stroke-width="0.75"/>
<path d="M 988.0 645.5 L 992.8 635.5" stroke-width="0.75"/>
<path d="M 988.8 646.0 L 995.4 637.1" stroke-width="0.75"/>
<path d="M 989.4 646.6 L 997.7 639.1" stroke-width="0.75"/>
<path d="M 990.0 647.3 L 999.5 641.6" stroke-width="0.75"/>
<path d="M 990.3 648.1 L 1000.8 644.4" stroke-width="0.75"/>
<path d="M 990.5 648.9 L 1001.5 647.3" stroke-width="0.75"/>
<circle cx="986.1" cy="649.6" r="4.6" stroke-width="0" fill="#000"/>
<path d="M 915.0 625.7 L 934.4 626.5 Q 937.4 628.0 936.7 632.5 L 934.4 651.9 Q 932.9 656.4 928.4 657.9 L 909.7 656.4 Q 906.7 653.4 906.7 645.9 L 908.2 634.7 Q 910.5 627.2 915.0 625.7 Z" stroke-width="1.6"/>
<path d="M 908.2 655.7 Q 911.2 660.1 921.0 662.4 L 940.4 667.6" stroke-width="1.6"/>
<path d="M 910.5 635.4 L 934.4 638.8" stroke-width="1.15"/>
<path d="M 908.2 646.3 L 932.9 649.3" stroke-width="1.15"/>
<path d="M 909.0 657.2 L 926.9 660.9 L 941.2 663.9" stroke-width="1.15"/>
<path d="M 934.4 626.5 L 938.9 629.5 L 944.9 630.2 Q 947.9 631.7 947.2 634.0 L 944.2 661.6 L 940.4 667.6" stroke-width="1.15"/>
<path d="M 936.7 632.5 L 940.4 630.2" stroke-width="1.15"/>
<path d="M 926.9 657.9 L 928.4 661.6" stroke-width="1.15"/>
<path d="M 932.9 654.9 L 937.4 666.9" stroke-width="1.15"/>
<path d="M 944.9 631.0 Q 941.9 643.7 943.4 662.4" stroke-width="1.15"/>
<path d="M 649.9 726.8 Q 647.1 714.0 655.6 705.5 L 681.2 675.6 Q 689.7 667.1 701.1 668.5 Q 712.5 671.4 715.3 685.6 L 753.7 728.3 Q 758.0 730.4 760.8 725.4 Q 762.3 709.8 776.5 704.1 Q 792.1 701.2 797.8 714.0 Q 802.1 728.3 790.7 735.4 L 772.2 738.2 Q 766.5 741.1 767.9 746.8 L 799.2 790.8 Q 814.9 796.5 816.3 807.9 Q 816.3 820.7 800.7 827.8 L 758.0 846.3 Q 748.0 850.6 743.8 844.9" stroke-width="1.3"/>
<path d="M 649.9 726.8 Q 665.6 739.6 686.9 763.8 Q 708.2 790.8 729.6 822.1 L 743.8 844.9" stroke-width="1.3"/>
<path d="M 651.3 725.4 L 684.0 682.8 Q 689.7 677.8 698.3 679.2 Q 704.0 681.3 709.6 688.4 L 799.9 800.8 Q 805.6 809.3 800.7 816.4 L 748.0 844.9" stroke-width="1.15"/>
<path d="M 701.1 680.6 L 797.8 800.8" stroke-width="1.15"/>
<path d="M 652.8 725.4 Q 668.4 738.2 689.7 762.4 Q 711.1 789.4 732.4 820.7 L 749.5 844.9" stroke-width="1.15"/>
<path d="M 713.9 684.9 Q 715.3 691.3 718.2 694.1 L 753.7 731.1" stroke-width="1.15"/>
<path d="M 766.5 745.3 L 797.1 788.7" stroke-width="1.15"/>
<circle cx="779.3" cy="720.4" r="9.2" stroke-width="1.15"/>
<circle cx="777.9" cy="720.4" r="8.2" stroke-width="1.15"/>
<path d="M 630.0 800.8 Q 634.3 806.5 638.5 805.1 L 667.0 782.3 Q 669.8 782.3 672.7 785.1 L 694.0 815.0 L 689.7 817.9 L 665.6 837.8 Q 662.0 843.5 664.1 850.0" stroke-width="1.15"/>
<path d="M 661.3 788.0 L 685.5 820.7" stroke-width="1.15"/>
<path d="M 668.4 783.7 L 692.6 815.0" stroke-width="1.15"/>
<ellipse cx="659.9" cy="815.0" rx="8.8" ry="9.2" transform="rotate(0.0 659.9 815.0)" stroke-width="1.15"/>
<ellipse cx="658.4" cy="815.0" rx="6.4" ry="8.5" transform="rotate(0.0 658.4 815.0)" stroke-width="1.15"/>
<path d="M 630.0 819.3 L 654.2 850.0" stroke-width="1.15"/>
<path d="M 533.5 804.8 L 559.1 773.5 Q 564.1 767.8 575.5 766.4 Q 582.6 763.5 591.1 767.8 L 632.4 804.0 Q 635.2 806.9 638.0 804.0"/>
<path d="M 533.5 804.8 Q 532.8 809.0 537.8 808.3 L 563.4 776.3 Q 566.9 772.8 575.5 774.2 L 626.7 805.5 Q 628.1 809.7 626.7 815.4"/>
<path d="M 552.7 801.9 Q 552.0 805.5 557.0 804.8 L 576.2 777.7"/>
<path d="M 552.7 801.9 L 571.9 775.6"/>
<path d="M 560.5 772.0 L 565.5 775.6"/>
<path d="M 576.2 765.9 Q 574.0 771.3 576.2 774.2"/>
<path d="M 636.6 805.5 L 667.2 783.4 L 694.2 815.4 L 666.5 836.8 Q 662.2 841.0 665.1 848.1"/>
<path d="M 662.2 788.4 L 689.9 816.8"/>
<path d="M 668.6 784.1 L 694.9 814.7"/>
<circle cx="659.4" cy="814.7" r="8.8"/>
<circle cx="661.5" cy="814.7" r="7.1"/>
<path d="M 626.7 815.4 Q 640.9 829.6 650.8 843.9 Q 660.8 858.1 679.3 893.6 Q 683.5 903.6 677.9 913.5 L 639.5 929.2 Q 635.2 933.5 640.9 934.9 L 687.8 913.5"/>
<path d="M 665.1 848.1 L 667.9 849.6 L 697.8 895.1 Q 702.0 906.4 693.5 915.0 L 659.4 930.6"/>
<path d="M 666.5 851.0 L 690.7 890.8 Q 694.9 900.7 689.2 910.7"/>
<path d="M 652.3 846.7 L 665.1 849.6"/>
<path d="M 466.4 864.7 Q 465.0 854.8 472.1 847.7 L 499.1 816.4 Q 506.2 810.7 514.7 812.1 Q 526.1 815.0 529.0 826.3 Q 530.4 832.0 534.6 834.9 L 568.8 870.4 Q 573.0 873.3 577.3 867.6 Q 578.7 851.9 592.9 847.7 Q 608.6 846.2 614.3 859.0 Q 617.1 873.3 605.7 879.0 L 590.1 881.8 Q 581.6 884.6 584.4 891.8 L 615.7 934.4 Q 632.8 940.1 632.8 955.7 Q 631.3 968.5 621.4 972.8 L 580.1 989.9 Q 568.8 992.7 558.8 985.6 Q 554.6 982.8 548.9 972.8 L 526.1 940.1 L 476.3 884.6 Q 467.8 876.1 466.4 864.7 Z" stroke-width="1.3"/>
<path d="M 530.4 827.8 Q 531.8 833.4 536.1 836.3 L 570.2 871.8" stroke-width="1.15"/>
<path d="M 583.0 890.3 L 614.3 933.0 Q 618.5 937.3 621.4 938.7" stroke-width="1.15"/>
<circle cx="595.8" cy="864.0" r="8.8" stroke-width="1.15"/>
<circle cx="597.2" cy="864.0" r="7.8" stroke-width="1.15"/>
<circle cx="511.9" cy="842.0" r="10.2" stroke-width="1.3"/>
<circle cx="489.1" cy="866.9" r="10.2" stroke-width="1.3"/>
<circle cx="536.1" cy="865.4" r="10.2" stroke-width="1.3"/>
<circle cx="511.2" cy="891.0" r="10.2" stroke-width="1.3"/>
<circle cx="533.9" cy="915.2" r="10.2" stroke-width="1.3"/>
<circle cx="583.0" cy="921.6" r="10.2" stroke-width="1.3"/>
<circle cx="553.1" cy="941.5" r="10.2" stroke-width="1.3"/>
<circle cx="601.5" cy="950.8" r="10.2" stroke-width="1.3"/>
<circle cx="572.3" cy="967.8" r="10.2" stroke-width="1.3"/>
<circle cx="347.3" cy="846.4" r="22.9" stroke-width="1.3"/>
<path d="M 341.9 823.5 Q 355.4 815.4 371.6 816.7 Q 382.4 818.8 388.4 827.5 L 391.8 830.2 L 429.5 834.3 Q 434.2 835.6 437.6 842.3 L 453.8 928.6 L 495.0 946.1" stroke-width="1.3"/>
<circle cx="349.0" cy="845.6" r="17.5" stroke-width="2"/>
<circle cx="349.0" cy="845.6" r="16.2" stroke-width="1.15"/>
<circle cx="349.2" cy="845.6" r="13.1" stroke-width="1.15"/>
<circle cx="349.5" cy="845.6" r="8.1" stroke-width="1.15" fill="#222"/>
<circle cx="349.8" cy="845.6" r="3.0" stroke-width="1.15" fill="#fff"/>
<path d="M 372.9 850.4 Q 378.3 839.6 388.4 828.9" stroke-width="1.15"/>
<path d="M 381.0 841.0 L 417.4 843.7 L 429.5 834.3" stroke-width="1.15"/>
<path d="M 417.4 843.7 Q 412.7 849.1 412.7 858.5 L 412.0 960.9" stroke-width="1.15"/>
<path d="M 433.6 841.0 L 449.7 929.9 L 495.0 948.8" stroke-width="1.15"/>
<path d="M 428.2 872.0 L 441.6 863.9 L 443.0 872.0 L 429.5 881.4" stroke-width="1.15"/>
<path d="M 401.2 859.9 L 406.6 920.5" stroke-width="1.15"/>
<path d="M 405.3 861.2 Q 409.3 866.6 409.3 885.4 L 408.0 921.8" stroke-width="1.15"/>
<path d="M 371.6 863.9 L 401.2 859.2" stroke-width="1.15"/>
<circle cx="371.6" cy="881.4" r="12.8" stroke-width="1.15"/>
<path d="M 385.1 872.0 Q 394.5 877.4 391.8 892.2" stroke-width="1.15"/>
<path d="M 382.4 870.6 Q 391.8 877.4 389.1 893.5" stroke-width="1.15"/>
<path d="M 339.3 870.6 L 321.7 958.2" stroke-width="1.15"/>
<path d="M 346.0 872.0 L 328.5 959.6" stroke-width="1.15"/>
<path d="M 354.1 867.9 L 341.9 917.8" stroke-width="1.15"/>
<path d="M 350.0 898.9 Q 355.4 901.6 360.8 909.7 L 367.5 913.7 Q 385.1 909.7 403.9 919.1" stroke-width="1.15"/>
<path d="M 335.2 920.5 Q 337.9 928.6 346.0 929.9 Q 368.9 917.8 395.8 927.2 Q 402.6 929.9 409.3 919.1" stroke-width="1.15"/>
<path d="M 341.9 928.6 Q 368.9 915.1 398.5 924.5" stroke-width="1.15"/>
<path d="M 336.6 919.1 L 346.0 916.4" stroke-width="1.15"/>
<path d="M 339.3 959.6 Q 348.7 939.3 368.9 938.0 Q 390.4 939.3 399.9 960.9" stroke-width="1.15"/>
<path d="M 332.5 959.6 Q 341.9 928.6 370.2 924.5 Q 398.5 927.2 406.6 960.9" stroke-width="1.15"/>
<path d="M 370.2 924.5 L 368.9 939.3" stroke-width="1.15"/>
<path d="M 320.4 958.9 L 339.3 959.6" stroke-width="1.15"/>
<path d="M 399.9 960.9 L 437.6 960.9" stroke-width="1.15"/>
<path d="M 341.9 869.3 L 354.1 867.9 L 368.9 861.2" stroke-width="1.15"/>
<path d="M 372.9 858.5 L 401.2 854.5" stroke-width="1.15"/>
<path d="M 265.6 947.1 Q 271.3 944.9 281.3 945.6 L 319.7 959.9" stroke-width="1.3"/>
<path d="M 265.6 947.1 L 252.1 980.5 L 306.9 1005.4 L 312.6 1002.5" stroke-width="1.3"/>
<path d="M 320.4 959.9 Q 318.3 972.7 322.5 986.9 Q 332.5 1009.6 359.5 1015.3 Q 378.0 1022.4 383.7 1043.8 Q 383.7 1072.2 393.6 1083.6" stroke-width="1.3"/>
<path d="M 282.7 957.0 L 269.9 989.7" stroke-width="1.15"/>
<path d="M 265.6 947.8 L 282.7 957.0 L 318.3 970.5" stroke-width="1.15"/>
<path d="M 281.3 952.8 Q 284.1 950.6 289.8 951.3 L 316.8 961.3 Q 319.7 964.1 315.4 965.6 L 289.8 955.6 Q 282.7 954.9 281.3 952.8 Z" stroke-width="1.15"/>
<path d="M 306.9 1005.4 L 314.0 1001.1 L 324.0 992.6 L 326.8 998.3" stroke-width="1.15"/>
<path d="M 325.4 959.9 Q 323.2 972.7 327.5 986.9 Q 336.8 1005.4 361.6 1011.8 Q 382.3 1018.2 388.7 1045.2 Q 388.7 1070.8 396.5 1080.7" stroke-width="1.15"/>
<path d="M 360.2 1013.9 L 359.5 1021.0" stroke-width="1.15"/>
<path d="M 380.8 1045.9 L 386.5 1045.9" stroke-width="1.15"/>
<path d="M 320.4 959.9 L 339.6 959.9 Q 349.6 941.4 369.5 939.2 Q 390.8 941.4 399.3 961.3 L 410.7 960.6 L 440.0 958.4" stroke-width="1.15"/>
<path d="M 368.8 939.2 L 369.5 930.0" stroke-width="1.15"/>
<path d="M 321.1 958.4 L 328.2 930.0" stroke-width="1.15"/>
<path d="M 325.4 958.4 L 332.5 930.0" stroke-width="1.15"/>
<path d="M 332.5 958.4 Q 335.3 944.2 341.0 932.8" stroke-width="1.15"/>
<path d="M 406.4 961.3 Q 403.6 944.2 400.7 932.8" stroke-width="1.15"/>
<path d="M 412.1 962.7 L 410.7 930.0" stroke-width="1.15"/>
<path d="M 417.8 930.0 L 420.7 961.3" stroke-width="1.15"/>
<path d="M 450.6 920.0 L 453.4 931.4 Q 455.6 933.5 462.7 935.6 L 491.1 947.0 Q 501.1 951.3 502.5 962.7 L 499.6 988.3 Q 499.6 991.1 503.9 992.5 L 566.5 1025.2 L 590.7 1038.0 Q 599.2 1043.7 603.5 1055.1 L 610.0 1090.7" stroke-width="1.3"/>
<path d="M 434.2 920.0 L 437.1 932.8" stroke-width="1.15"/>
<path d="M 455.6 930.7 L 494.0 945.6" stroke-width="1.15"/>
<path d="M 505.3 990.4 L 565.1 1022.4" stroke-width="1.15"/>
<path d="M 431.4 935.6 Q 430.0 938.5 431.4 951.3 Q 432.8 965.5 448.4 979.7 L 466.9 991.1 Q 474.0 996.8 482.6 996.8 L 486.8 991.1 L 488.3 965.5 Q 486.8 959.8 482.6 957.0 L 435.6 937.1 Z" stroke-width="1.15"/>
<path d="M 435.6 938.5 L 482.6 958.4" stroke-width="1.15"/>
<path d="M 437.1 945.6 L 459.8 952.7" stroke-width="1.15"/>
<path d="M 434.2 959.8 Q 438.5 974.0 455.6 984.0" stroke-width="1.15"/>
<circle cx="457.7" cy="970.5" r="6.4" stroke-width="1.15"/>
<circle cx="457.7" cy="970.5" r="4.3" stroke-width="1.15"/>
<path d="M 446.3 966.9 Q 448.4 957.0 459.8 954.1 L 469.8 969.8 L 461.2 985.4 Q 448.4 982.6 446.3 966.9" stroke-width="1.15"/>
<path d="M 461.2 951.3 Q 479.7 955.6 486.8 966.9" stroke-width="1.15"/>
<path d="M 464.1 949.9 Q 484.0 954.1 489.7 965.5" stroke-width="1.15"/>
<path d="M 420.0 961.2 L 435.6 959.8" stroke-width="1.15"/>
<path d="M 420.0 979.7 Q 437.1 992.5 462.7 1000.4 L 565.1 1043.7" stroke-width="1.15"/>
<path d="M 459.8 1008.2 L 566.5 1046.6" stroke-width="1.15"/>
<path d="M 462.7 1000.4 Q 458.4 1003.9 459.8 1009.6 L 457.0 1019.6" stroke-width="1.15"/>
<path d="M 457.0 1019.6 Q 474.0 1033.8 474.0 1055.1 Q 472.6 1076.4 457.0 1083.5 L 439.9 1087.8 L 435.6 1110.0" stroke-width="1.15"/>
<path d="M 486.8 1035.2 Q 486.8 1029.5 494.0 1028.1 L 502.5 1028.1 L 566.5 1045.1 L 567.9 1048.0" stroke-width="1.15"/>
<path d="M 488.3 1036.6 L 489.7 1070.7 Q 488.3 1076.4 479.7 1076.4 Q 476.9 1080.7 482.6 1085.0 L 499.6 1110.0" stroke-width="1.15"/>
<path d="M 491.1 1033.8 L 502.5 1033.8 L 553.7 1050.8 Q 560.8 1052.3 562.2 1059.4 L 562.2 1094.9" stroke-width="1.15"/>
<path d="M 501.1 1035.2 L 499.6 1070.7 Q 502.5 1075.0 508.2 1075.0 L 553.7 1090.7" stroke-width="1.15"/>
<path d="M 506.8 1036.6 Q 509.6 1062.2 503.9 1070.7" stroke-width="1.15"/>
<circle cx="533.8" cy="1068.6" r="13.5" stroke-width="1.15"/>
<path d="M 545.1 1056.5 Q 550.8 1062.2 549.4 1073.6" stroke-width="1.15"/>
<path d="M 556.5 1060.8 L 557.9 1070.7" stroke-width="1.15"/>
<path d="M 488.3 1070.7 L 499.6 1070.7 L 555.1 1092.1 L 610.0 1103.5" stroke-width="1.15"/>
<path d="M 479.7 1076.4 L 553.7 1094.9" stroke-width="1.15"/>
<path d="M 567.9 1048.0 Q 576.4 1056.5 577.9 1062.2 L 585.0 1110.0" stroke-width="1.15"/>
<path d="M 579.3 1060.8 L 603.5 1056.5" stroke-width="1.15"/>
<path d="M 566.5 1045.1 L 590.7 1039.5" stroke-width="1.15"/>
<path d="M 562.2 1094.9 L 610.0 1110.0" stroke-width="1.15"/>
<path d="M 474.0 1059.4 L 486.8 1060.8" stroke-width="1.15"/>
<path d="M 438.5 1087.8 L 435.6 1110.0" stroke-width="1.15"/>
<path d="M 420.0 1099.2 L 434.2 1103.5" stroke-width="1.15"/>
<path d="M 548.0 1019.6 L 553.7 1028.1 L 565.1 1025.2" stroke-width="1.15"/>
<path d="M 422.2 961.8 Q 425.9 974.9 439.0 984.2 L 463.3 995.4" stroke-width="1.15"/>
<path d="M 412.8 961.8 Q 414.7 978.6 420.0 979.7" stroke-width="1.15"/>
<path d="M 490.0 1094.9 L 505.7 1112.2 Q 529.3 1135.7 548.2 1153.0 L 593.7 1182.9 L 626.8 1129.5" stroke-width="1.3"/>
<path d="M 490.0 1076.0 L 549.7 1094.9 L 625.2 1129.5" stroke-width="1.3"/>
<path d="M 516.7 1010.0 L 552.9 1028.1 L 562.3 1025.7 L 590.6 1038.3 Q 600.0 1044.6 603.2 1052.4 L 612.6 1104.3 L 625.2 1129.5" stroke-width="1.3"/>
<path d="M 609.5 1082.3 L 622.0 1087.0 L 623.6 1090.2 Q 631.5 1088.6 639.3 1090.2 L 688.1 1108.2 Q 692.8 1112.2 689.6 1118.5 L 677.1 1146.8 Q 673.9 1149.9 667.6 1149.1 L 626.8 1134.2" stroke-width="1.3"/>
<path d="M 490.0 1019.4 L 568.6 1043.0 L 592.2 1038.3" stroke-width="1.15"/>
<path d="M 568.6 1043.0 Q 578.0 1049.3 578.0 1060.3 L 584.3 1102.7" stroke-width="1.15"/>
<path d="M 582.7 1060.3 L 603.2 1057.2" stroke-width="1.15"/>
<path d="M 585.9 1102.7 L 612.6 1105.9" stroke-width="1.15"/>
<path d="M 563.9 1046.2 Q 560.7 1054.0 562.3 1098.0" stroke-width="1.15"/>
<path d="M 576.5 1101.2 L 578.0 1060.3" stroke-width="1.15"/>
<path d="M 490.0 1033.6 Q 496.3 1028.9 504.1 1028.9 L 557.6 1046.9 Q 562.3 1049.3 562.3 1055.6 L 562.3 1090.2 L 552.9 1093.3 L 490.0 1072.9" stroke-width="1.15"/>
<path d="M 490.0 1038.3 L 504.1 1036.7 L 556.0 1052.4 L 552.9 1090.2" stroke-width="1.15"/>
<path d="M 502.6 1030.4 Q 499.4 1049.3 502.6 1071.3" stroke-width="1.15"/>
<path d="M 507.3 1035.1 L 505.7 1072.9" stroke-width="1.15"/>
<path d="M 556.0 1054.0 L 554.4 1088.6" stroke-width="1.15"/>
<circle cx="534.8" cy="1068.9" r="14.1" stroke-width="1.15"/>
<circle cx="536.4" cy="1068.2" r="14.1" stroke-width="1.15"/>
<path d="M 557.6 1060.3 L 558.4 1071.3" stroke-width="1.15"/>
<path d="M 625.2 1098.0 L 659.8 1110.6 L 689.6 1113.7" stroke-width="1.15"/>
<path d="M 625.2 1098.0 L 618.9 1116.9" stroke-width="1.15"/>
<path d="M 659.8 1110.6 L 648.8 1142.0" stroke-width="1.15"/>
<path d="M 683.3 1115.3 L 670.8 1148.3" stroke-width="1.15"/>
<path d="M 680.2 1116.9 L 669.2 1146.8" stroke-width="1.15"/>
<path d="M 640.9 1096.5 Q 644.0 1094.9 650.3 1095.7 L 675.5 1104.3 Q 678.6 1107.5 673.9 1109.0 L 647.2 1102.7 Q 640.9 1101.2 640.9 1096.5 Z" stroke-width="1.15"/>
<path d="M 490.0 1110.6 L 505.7 1113.7" stroke-width="1.15"/>
<path d="M 595.6 1181.6 L 625.5 1134.2" stroke-width="1.15"/>
<path d="M 600.3 1172.2 L 623.0 1138.6" stroke-width="3"/>
<path d="M 390.0 1080.6 Q 403.5 1098.1 434.5 1106.2 L 505.9 1113.0" stroke-width="1.3"/>
<path d="M 390.0 1069.9 Q 403.5 1091.4 434.5 1100.8" stroke-width="1.15"/>
<path d="M 434.5 1100.8 L 435.8 1106.2" stroke-width="1.15"/>
<path d="M 435.8 1100.8 L 495.1 1106.2 L 504.5 1113.0" stroke-width="1.15"/>
<path d="M 457.4 1020.0 Q 473.5 1037.5 472.2 1053.7 Q 468.1 1077.9 439.9 1087.4 L 436.5 1100.8" stroke-width="1.15"/>
<path d="M 470.8 1020.0 Q 485.7 1033.5 488.4 1053.7 Q 488.4 1071.2 477.6 1077.9 Q 476.2 1082.0 478.9 1084.7 L 524.7 1129.9" stroke-width="1.15"/>
<path d="M 439.9 1092.8 Q 464.1 1090.1 477.6 1084.7" stroke-width="1.15"/>
<path d="M 472.2 1059.1 L 488.4 1061.8" stroke-width="1.15"/>
</g></svg></body></html>
